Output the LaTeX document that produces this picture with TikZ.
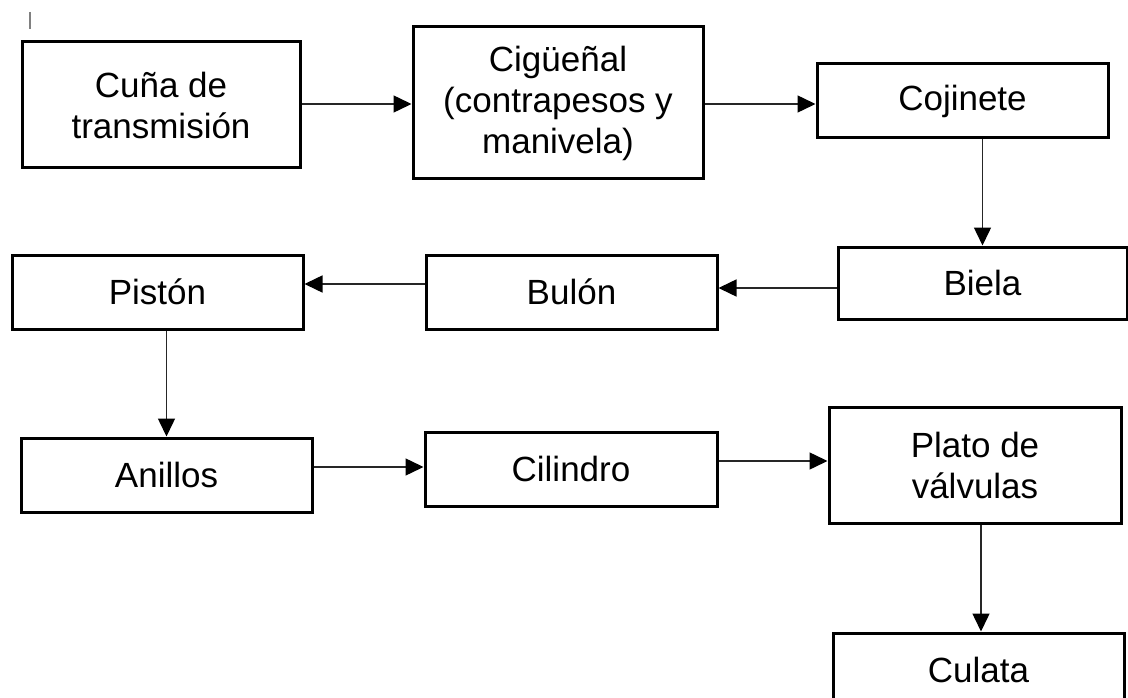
\documentclass[tikz,border=0pt]{standalone}
\usepackage{fontspec}
\setmainfont{Liberation Sans}
\usetikzlibrary{arrows.meta}
\begin{document}
\begin{tikzpicture}[x=1pt,y=-1pt,
  box/.style={draw=black, line width=3pt, rectangle, inner sep=0pt,
    align=center, font=\fontsize{35}{41}\selectfont},
  conn/.style={draw=black!85, line width=1.5pt,
    -{Triangle[length=18pt,width=17pt,fill=black,color=black]}}]
\clip (0,0) rectangle (1128,698);
\fill[white] (0,0) rectangle (1128,698);

% small mark at the top left
\draw[black!50, line width=2.2pt] (30,12) -- (30,29);

% boxes
\node[box, minimum width=278pt, minimum height=126pt] (cuna) at (161,105) {Cuña de\\transmisión};
\node[box, minimum width=290pt, minimum height=152pt] (cig) at (558,103) {Cigüeñal\\(contrapesos y\\manivela)};
\node[box, minimum width=291pt, minimum height=74pt] (coj) at (962.5,101) {Cojinete};
\node[box, minimum width=289pt, minimum height=72pt] (biela) at (982.5,283) {Biela};
\node[box, minimum width=291pt, minimum height=74pt] (bulon) at (571.5,292) {Bulón};
\node[box, minimum width=291pt, minimum height=74pt] (piston) at (157.5,292) {Pistón};
\node[box, minimum width=291pt, minimum height=74pt] (anillos) at (166.5,475) {Anillos};
\node[box, minimum width=292pt, minimum height=74pt] (cil) at (571,469) {Cilindro};
\node[box, minimum width=292pt, minimum height=116pt] (plato) at (975,465) {Plato de\\válvulas};
\node[box, minimum width=291pt, minimum height=74pt] (culata) at (978.5,670) {Culata};

% connectors
\draw[conn] (cuna.east |- 0,104) -- (cig.west |- 0,104);
\draw[conn] (cig.east |- 0,104) -- (coj.west |- 0,104);
\draw[conn] (coj.south -| biela.north) -- (biela.north);
\draw[conn] (biela.west |- 0,288) -- (bulon.east |- 0,288);
\draw[conn] (bulon.west |- 0,284) -- (piston.east |- 0,284);
\draw[conn] (piston.south -| anillos.north) -- (anillos.north);
\draw[conn] (anillos.east |- 0,467) -- (cil.west |- 0,467);
\draw[conn] (cil.east |- 0,461) -- (plato.west |- 0,461);
\draw[conn] (plato.south -| 981,0) -- (culata.north -| 981,0);
\end{tikzpicture}
\end{document}
